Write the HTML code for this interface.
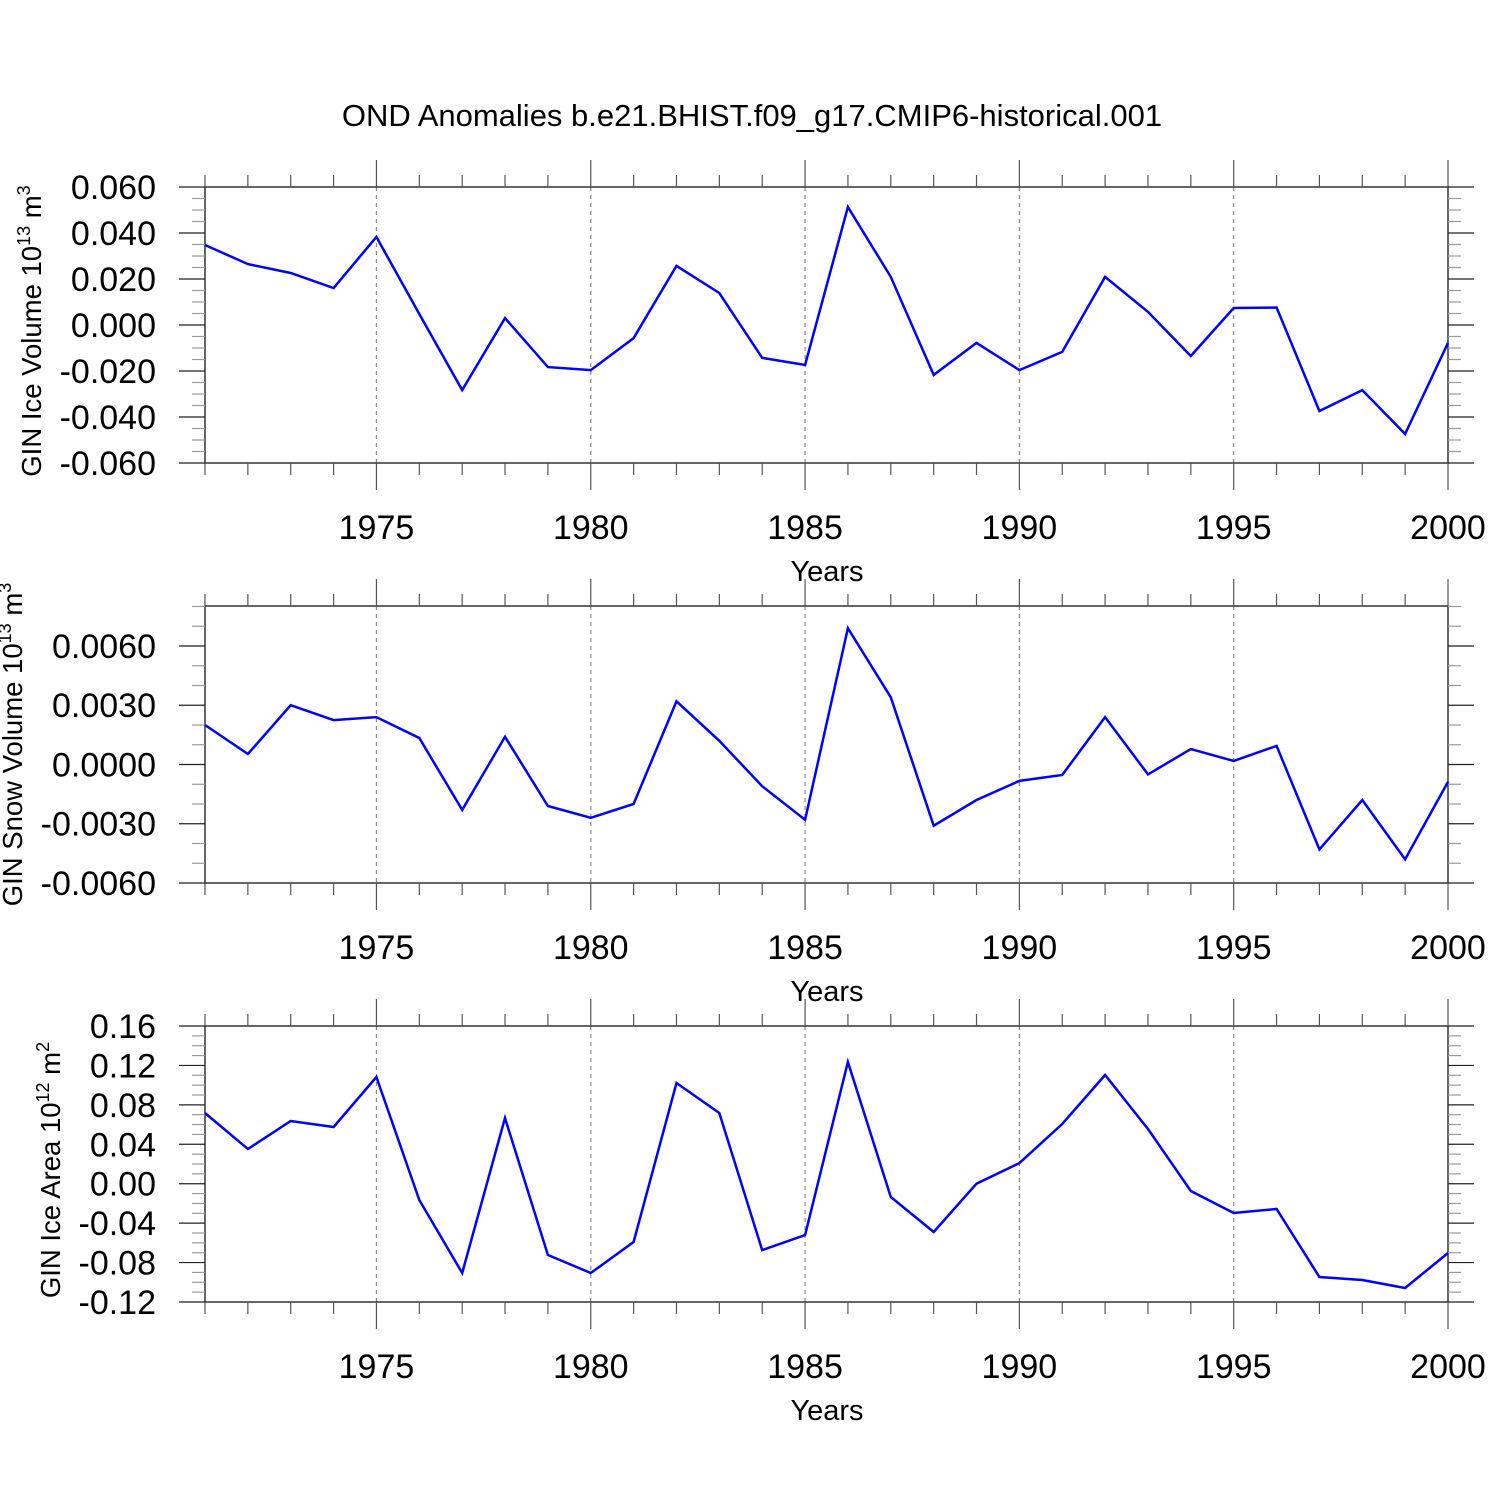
<!DOCTYPE html>
<html><head><meta charset="utf-8"><style>
html,body{margin:0;padding:0;background:#fff;}
svg{display:block;font-family:"Liberation Sans",sans-serif;}
</style></head><body>
<svg id="chart" width="1500" height="1500" viewBox="0 0 1500 1500">
<text x="752" y="126" font-size="31" text-anchor="middle">OND Anomalies b.e21.BHIST.f09_g17.CMIP6-historical.001</text>
</svg>
<script>
const years = [1971,1972,1973,1974,1975,1976,1977,1978,1979,1980,1981,1982,1983,1984,1985,1986,1987,1988,1989,1990,1991,1992,1993,1994,1995,1996,1997,1998,1999,2000];
const iceVolume = [0.0348,0.0265,0.0226,0.0161,0.0383,0.0048,-0.0283,0.0030,-0.0183,-0.0196,-0.0057,0.0257,0.0139,-0.0143,-0.0174,0.0513,0.0209,-0.0217,-0.0078,-0.0196,-0.0117,0.0209,0.0057,-0.0135,0.0074,0.0076,-0.0374,-0.0283,-0.0474,-0.0078];
const snowVolume = [0.0020,0.00053,0.0030,0.00225,0.0024,0.00134,-0.0023,0.0014,-0.0021,-0.0027,-0.0020,0.0032,0.0012,-0.0011,-0.0028,0.0069,0.0034,-0.0031,-0.0018,-0.00083,-0.00053,0.0024,-0.0005,0.00078,0.00018,0.00094,-0.0043,-0.0018,-0.0048,-0.00088];
const iceArea = [0.0717,0.0352,0.0636,0.0575,0.1083,-0.0165,-0.0906,0.0667,-0.0723,-0.0906,-0.0591,0.1022,0.0717,-0.0673,-0.052,0.1235,-0.0135,-0.049,0.0,0.0209,0.0606,0.1103,0.0555,-0.0074,-0.0297,-0.0257,-0.0946,-0.0977,-0.1058,-0.0703];
const iceVolumeTicks = ["0.060","0.040","0.020","0.000","-0.020","-0.040","-0.060"];
const snowVolumeTicks = ["0.0060","0.0030","0.0000","-0.0030","-0.0060"];
const iceAreaTicks = ["0.16","0.12","0.08","0.04","0.00","-0.04","-0.08","-0.12"];
const xTickLabels = ["1975","1980","1985","1990","1995","2000"];

const NS="http://www.w3.org/2000/svg";
const svg=document.getElementById('chart');
function mk(tag,attrs,parent){const e=document.createElementNS(NS,tag);for(const k in attrs)e.setAttribute(k,attrs[k]);(parent||svg).appendChild(e);return e;}
const X0=205,X1=1448;
function xs(yr){return X0+(yr-1971)/(2000-1971)*(X1-X0);}

function panel(cfg){
  const g=mk('g',{});
  
  
  const ys=v=>cfg.py0+(cfg.ymax-v)/(cfg.ymax-cfg.ymin)*(cfg.py1-cfg.py0);
  const top=ys(cfg.ymax), bot=ys(cfg.ymin);
  for(let yr=1975;yr<=1995;yr+=5){
    const l=mk('line',{x1:xs(yr),x2:xs(yr),y1:top,y2:bot,stroke:'#888','stroke-width':1.2,'stroke-dasharray':'4,4'},g);
    
    
  }
  const fr=mk('rect',{x:X0,y:top,width:X1-X0,height:bot-top,fill:'none',stroke:'#333','stroke-width':1.5},g);
  
  
  for(let yr=1971;yr<=2000;yr++){
    const major=yr%5===0, len=major?27:12;
    mk('line',{x1:xs(yr),x2:xs(yr),y1:top,y2:top-len,stroke:'#555','stroke-width':1.2},g);
    mk('line',{x1:xs(yr),x2:xs(yr),y1:bot,y2:bot+len,stroke:'#555','stroke-width':1.2},g);
  }
  xTickLabels.forEach(s=>{
    const t=mk('text',{x:xs(+s),y:bot+76,'font-size':34,'text-anchor':'middle'},g);
    t.textContent=s;
    
    
  });
  const xt=mk('text',{x:827,y:bot+118,'font-size':29,'text-anchor':'middle'},g);
  xt.textContent='Years';
  
  
  for(let v=cfg.ymin;v<=cfg.ymax+1e-9;v+=cfg.minor){
    const y=ys(v);
    const isMajor=Math.abs(Math.round((v-cfg.tick0)/cfg.major)*cfg.major-(v-cfg.tick0))<1e-9 && v<=cfg.tick0+1e-9 && v>=cfg.tickEnd-1e-9;
    const len=isMajor?26:13;
    mk('line',{x1:X0,x2:X0-len,y1:y,y2:y,stroke:isMajor?'#222':'#999','stroke-width':1.2},g);
    mk('line',{x1:X1,x2:X1+len,y1:y,y2:y,stroke:isMajor?'#222':'#999','stroke-width':1.2},g);
  }
  cfg.labels.forEach((s,i)=>{
    const v=parseFloat(s);
    const t=mk('text',{x:156,y:ys(v)+12,'font-size':34,'text-anchor':'end'},g);
    t.textContent=s;
    
    
  });
  const yt=mk('text',{x:0,y:0,'font-size':27.5,'text-anchor':'middle',transform:`translate(${cfg.tx},${(top+bot)/2+cfg.tdy}) rotate(-90)`},g);
  
  
  yt.innerHTML=cfg.title;
  const pts=years.map((yr,i)=>xs(yr).toFixed(1)+','+ys(cfg.data[i]).toFixed(1)).join(' ');
  const pl=mk('polyline',{points:pts,fill:'none',stroke:'#0000ff','stroke-width':2.5,'stroke-linejoin':'miter'},g);
  
  
}
panel({name:'ice-volume-panel',data:iceVolume,labels:iceVolumeTicks,ymin:-0.06,ymax:0.06,py0:187,py1:463,minor:0.005,major:0.02,tick0:0.06,tickEnd:-0.06,tx:41,tdy:6,
  title:'GIN Ice Volume 10<tspan dy="-11" font-size="18">13</tspan><tspan dy="11"> m</tspan><tspan dy="-11" font-size="18">3</tspan>'});
panel({name:'snow-volume-panel',data:snowVolume,labels:snowVolumeTicks,ymin:-0.006,ymax:0.008025,py0:606,py1:883,minor:0.001,major:0.003,tick0:0.006,tickEnd:-0.006,tx:22,tdy:0,
  title:'GIN Snow Volume 10<tspan dy="-11" font-size="18">13</tspan><tspan dy="11"> m</tspan><tspan dy="-11" font-size="18">3</tspan>'});
panel({name:'ice-area-panel',data:iceArea,labels:iceAreaTicks,ymin:-0.12,ymax:0.16,py0:1026,py1:1302,minor:0.01,major:0.04,tick0:0.16,tickEnd:-0.12,tx:60,tdy:6,
  title:'GIN Ice Area 10<tspan dy="-11" font-size="18">12</tspan><tspan dy="11"> m</tspan><tspan dy="-11" font-size="18">2</tspan>'});
</script>
</body></html>
